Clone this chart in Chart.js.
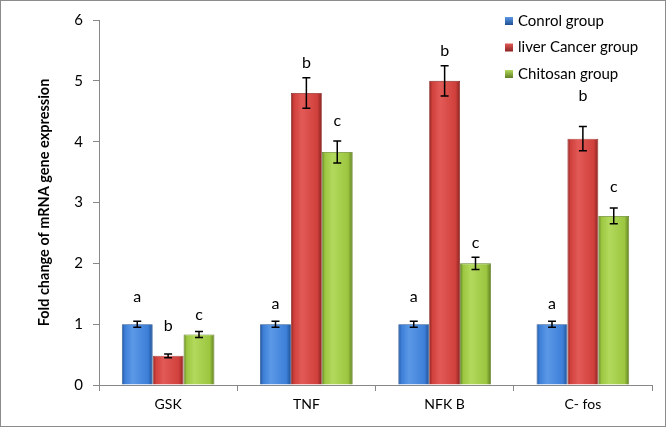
<!DOCTYPE html>
<html>
<head>
<meta charset="utf-8">
<script src="https://cdn.jsdelivr.net/npm/chart.js@4"></script>
<style>
  html, body { margin: 0; padding: 0; background: #fff; }
  #wrap { width: 664px; height: 425px; border: 1px solid #8c8c8c; position: relative; }
</style>
</head>
<body>
<div id="wrap"><canvas id="myCanvas" width="664" height="425"></canvas></div>
<script>
let genes = ["GSK", "TNF", "NFK B", "C- fos"];
let groupNames = ["Conrol group", "liver Cancer group", "Chitosan group"];
let yTicks = [0, 1, 2, 3, 4, 5, 6];

let controlVals = [1.0, 1.0, 1.0, 1.0];
let cancerVals = [0.48, 4.8, 5.0, 4.05];
let chitosanVals = [0.83, 3.83, 2.0, 2.78];

let controlErr = [0.05, 0.05, 0.05, 0.05];
let cancerErr = [0.03, 0.25, 0.25, 0.2];
let chitosanErr = [0.05, 0.18, 0.1, 0.13];

let controlLetters = ["a", "a", "a", "a"];
let cancerLetters = ["b", "b", "b", "b"];
let chitosanLetters = ["c", "c", "c", "c"];
// height (in y units) where each letter sits
let controlLetterY = [1.45, 1.33, 1.45, 1.33];
let cancerLetterY = [0.97, 5.3, 5.5, 4.75];
let chitosanLetterY = [1.15, 4.35, 2.33, 3.26];

let fontName = "Lato, 'Open Sans', sans-serif";
let catPct = 0.67;

// colours: light, main, dark edge
let palette = [
    ['#5b98e6', '#3d7fd8', '#1f4f93'],
    ['#e25a56', '#d0403c', '#8a2421'],
    ['#b2d95c', '#9cc640', '#5f7e22']
];

let errs = [controlErr, cancerErr, chitosanErr];
let letters = [controlLetters, cancerLetters, chitosanLetters];
let letterY = [controlLetterY, cancerLetterY, chitosanLetterY];

let barFill = (i) => (context) => {
    let chart = context.chart;
    let xs = chart.scales.x;
    if (!xs || !chart.chartArea || !Number.isFinite(xs.getPixelForValue(0))) return palette[i][1];
    let catW = (chart.chartArea.right - chart.chartArea.left) / genes.length;
    let w = catW * catPct / 3;
    let cx = xs.getPixelForValue(context.dataIndex) + (i - 1) * w;
    if (!Number.isFinite(cx)) return palette[i][1];
    let g = chart.ctx.createLinearGradient(cx - w / 2, 0, cx + w / 2, 0);
    g.addColorStop(0, palette[i][2]);
    g.addColorStop(0.1, palette[i][1]);
    g.addColorStop(0.35, palette[i][0]);
    g.addColorStop(0.85, palette[i][1]);
    g.addColorStop(1, palette[i][2]);
    return g;
};

let extras = {
    id: 'extras',
    afterDatasetsDraw(chart) {
        let c = chart.ctx;
        let y = chart.scales.y;
        c.save();
        c.strokeStyle = '#000';
        c.fillStyle = '#000';
        c.lineWidth = 1.5;
        c.font = "16px " + fontName;
        c.textAlign = 'center';
        c.textBaseline = 'middle';
        chart.data.datasets.forEach((ds, i) => {
            let meta = chart.getDatasetMeta(i);
            meta.data.forEach((bar, j) => {
                let v = ds.data[j];
                let e = errs[i][j];
                let yt = y.getPixelForValue(v + e);
                let yb = y.getPixelForValue(v - e);
                c.beginPath();
                c.moveTo(bar.x, yt); c.lineTo(bar.x, yb);
                c.moveTo(bar.x - 4, yt); c.lineTo(bar.x + 4, yt);
                c.moveTo(bar.x - 4, yb); c.lineTo(bar.x + 4, yb);
                c.stroke();
                c.fillText(letters[i][j], bar.x, y.getPixelForValue(letterY[i][j]));
            });
        });
        // legend, drawn over the plot area at the top right
        c.textAlign = 'left';
        c.font = "15px " + fontName;
        groupNames.forEach((name, i) => {
            let ly = 20 + i * 26.5;
            let g = c.createLinearGradient(0, ly - 4, 0, ly + 4);
            g.addColorStop(0, palette[i][0]);
            g.addColorStop(1, palette[i][2]);
            c.fillStyle = g;
            c.fillRect(504, ly - 4, 8, 8);
            c.fillStyle = '#000';
            c.fillText(name, 517, ly);
        });
        c.restore();
    }
};

let datasets = [controlVals, cancerVals, chitosanVals].map((vals, i) => ({
    label: groupNames[i],
    data: vals,
    backgroundColor: barFill(i),
    borderColor: palette[i][2],
    borderWidth: 0.8,
    borderSkipped: 'bottom',
    categoryPercentage: catPct,
    barPercentage: 1.0
}));

let grafica = document.getElementById("myCanvas").getContext('2d');
let myChart = new Chart(grafica, {
    type: 'bar',
    data: { labels: genes, datasets: datasets },
    options: {
        responsive: false,
        animation: false,
        layout: { padding: { left: 35, right: 13, top: 8, bottom: 5 } },
        plugins: {
            legend: { display: false },
            tooltip: { enabled: false }
        },
        scales: {
            x: {
                afterFit: (s) => { s.height = 36; },
                grid: { display: true, drawOnChartArea: false, offset: true, color: '#888', tickLength: 6 },
                border: { color: '#888', width: 1 },
                ticks: { color: '#000', font: { family: fontName, size: 14 }, padding: 5 }
            },
            y: {
                min: 0,
                max: 6,
                afterFit: (s) => { s.width = 63; },
                afterBuildTicks: (axis) => { axis.ticks = yTicks.map(v => ({ value: v })); },
                grid: { display: true, drawOnChartArea: false, color: '#888', tickLength: 6 },
                border: { color: '#888', width: 1 },
                ticks: { color: '#000', font: { family: fontName, size: 15 }, padding: 10 },
                title: {
                    display: true,
                    text: 'Fold change of mRNA gene expression',
                    color: '#000',
                    font: { family: fontName, size: 14.5, weight: 'bold' },
                    padding: { top: 0, bottom: 5 }
                }
            }
        }
    },
    plugins: [extras]
});
</script>
</body>
</html>
